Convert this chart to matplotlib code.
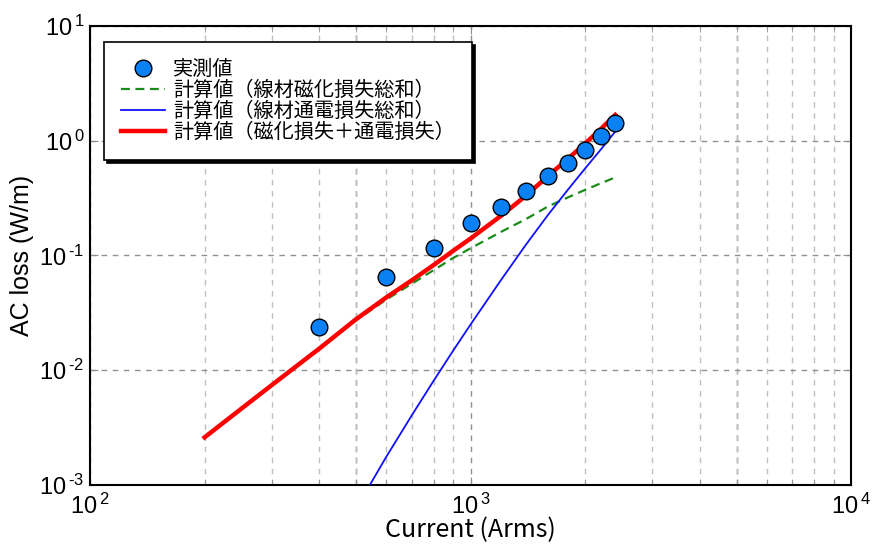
import matplotlib
matplotlib.use("Agg")
import matplotlib.pyplot as plt
from matplotlib.ticker import LogLocator, FuncFormatter, NullFormatter
import numpy as np

# Measured AC loss
current_meas = [400, 600, 800, 1000, 1200, 1400, 1600, 1800, 2000, 2200, 2400]
loss_meas = [0.0238, 0.0647, 0.1157, 0.1924, 0.2667, 0.3674, 0.493, 0.635, 0.830, 1.09, 1.414]

# Calculated losses
current_calc = [200, 250, 300, 400, 500, 600, 700, 800, 900, 1000,
                1200, 1400, 1600, 1800, 2000, 2200, 2400]
mag_loss = [0.0026, 0.00463, 0.0074, 0.0154, 0.0272, 0.0412, 0.0566, 0.0745, 0.095, 0.1155,
            0.160, 0.208, 0.268, 0.320, 0.373, 0.426, 0.479]
total_loss = [0.0026, 0.00463, 0.0074, 0.0154, 0.0278, 0.0430, 0.0606, 0.0826, 0.1098, 0.1405,
              0.2205, 0.333, 0.495, 0.692, 0.946, 1.265, 1.679]
current_tr = [500, 600, 700, 800, 900, 1000, 1200, 1400, 1600, 1800, 2000, 2200, 2400]
tr_loss = [0.00062, 0.00175, 0.00402, 0.0081, 0.0148, 0.0250, 0.0605, 0.1249, 0.227,
           0.372, 0.573, 0.839, 1.20]

labels = ["実測値", "計算値（線材磁化損失総和）", "計算値（線材通電損失総和）",
          "計算値（磁化損失＋通電損失）"]

plt.rcParams["font.family"] = ["Liberation Sans", "Noto Sans CJK JP"]
plt.rcParams["mathtext.fontset"] = "custom"
plt.rcParams["mathtext.rm"] = "Liberation Sans"
plt.rcParams["mathtext.default"] = "regular"

fig = plt.figure(figsize=(8.79, 5.48), dpi=100)
ax = fig.add_axes([0.1024, 0.115, 0.8658, 0.8376])

ax.plot(current_calc, mag_loss, "--", color="#1a8a1a", lw=1.6, dashes=(4, 2.5),
        label=labels[1], zorder=3)
ax.plot(current_tr, tr_loss, "-", color="#1010ff", lw=1.3, label=labels[2], zorder=3)
ax.plot(current_calc, total_loss, "-", color="#ff0000", lw=3.2, label=labels[3], zorder=4)
ax.plot(current_meas, loss_meas, "o", ms=12, mfc="#0a80f5", mec="black", mew=1.0,
        label=labels[0], zorder=5)

ax.set_xscale("log")
ax.set_yscale("log")
ax.set_xlim(100, 10000)
ax.set_ylim(1e-3, 10)


def pow10(v, pos):
    return r"$10^{\,\text{%d}}$" % int(round(np.log10(v)))


ax.xaxis.set_major_locator(LogLocator(base=10))
ax.xaxis.set_major_formatter(FuncFormatter(pow10))
ax.yaxis.set_major_formatter(FuncFormatter(pow10))
ax.xaxis.set_minor_locator(LogLocator(base=10, subs=range(2, 10)))
ax.xaxis.set_minor_formatter(NullFormatter())
ax.yaxis.set_minor_locator(LogLocator(base=10, subs=()))
ax.yaxis.set_minor_formatter(NullFormatter())

ax.grid(True, which="major", ls=(0, (4, 4)), color="#909090", lw=1.0)
ax.grid(True, which="minor", axis="x", ls=(0, (4, 4)), color="#c0c0c0", lw=1.0)
for xv in (500, 5000):
    ax.axvline(xv, ls=(0, (4, 4)), color="#707070", lw=1.0, zorder=1)

ax.tick_params(which="both", direction="in", top=True, right=True, color="#909090")
ax.tick_params(which="major", length=6, labelsize=17)
ax.tick_params(axis="y", which="major", pad=4)
ax.tick_params(axis="x", which="major", pad=6)
ax.tick_params(which="minor", length=4)
for s in ax.spines.values():
    s.set_linewidth(1.5)
    s.set_color("black")

ax.set_xlabel("Current (Arms)", fontsize=18, family=["Noto Sans CJK JP"])
ax.set_ylabel("AC loss (W/m)", fontsize=18)
ax.xaxis.set_label_coords(0.5, -0.07)
ax.yaxis.set_label_coords(-0.073, 0.5)

handles, labs = ax.get_legend_handles_labels()
order = [3, 0, 1, 2]
leg = ax.legend([handles[i] for i in order], [labs[i] for i in order],
                loc="upper left", bbox_to_anchor=(0.0184, 0.965), borderaxespad=0,
                prop={"family": ["Noto Sans CJK JP"], "size": 14.5},
                labelspacing=0.0, handlelength=2.2, handletextpad=0.37,
                borderpad=0.85, fancybox=False, framealpha=1,
                edgecolor="black", shadow={"color": "black", "alpha": 1.0})
leg.get_frame().set_linewidth(1.2)

fig.savefig("out.png", dpi=100)
